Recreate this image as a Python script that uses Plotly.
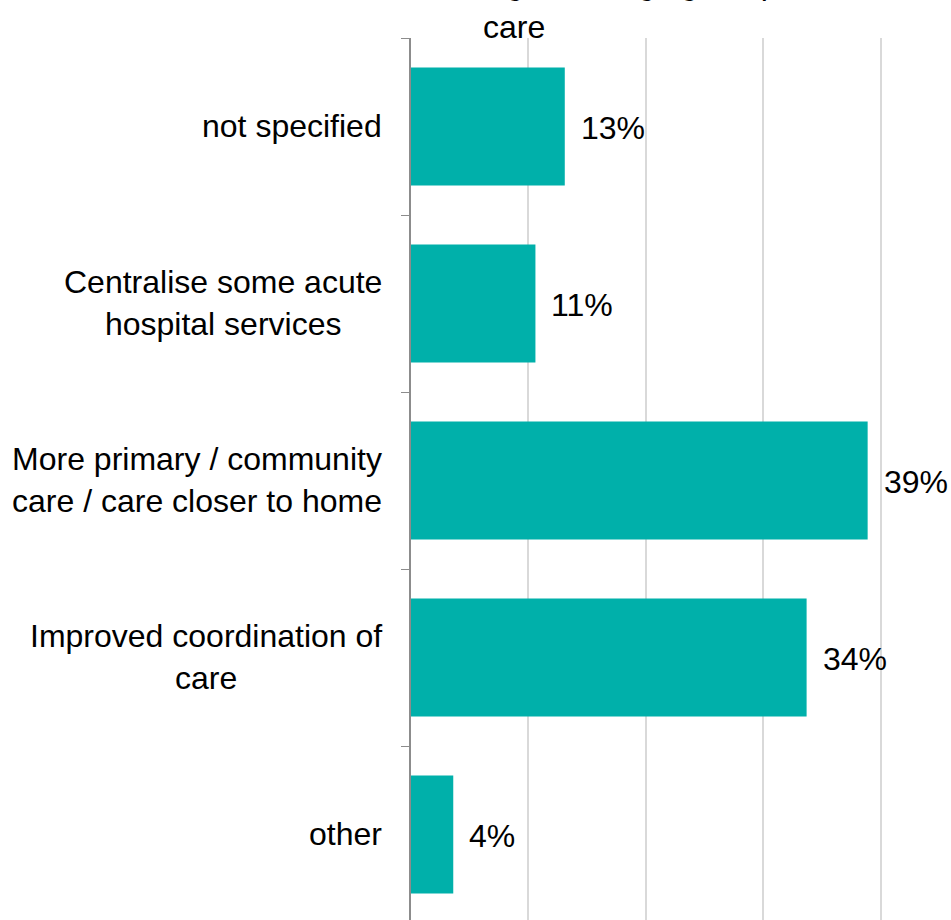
import plotly.graph_objects as go

# categories top to bottom, values in percent
categories = [
    "not specified",
    "Centralise some acute<br>hospital services",
    "More primary / community<br>care / care closer to home",
    "Improved coordination of<br>care",
    "other",
]
values = [13.1, 10.6, 38.9, 33.7, 3.6]
value_labels = ["13%", "11%", "39%", "34%", "4%"]

# title: first line is cut off by the top edge of the picture
title_lines = ["Focus of comments relating to changing the pattern of", "care"]

BAR_COLOR = "#00B0AA"
FONT = "Liberation Sans, Arial, sans-serif"

fig = go.Figure(
    go.Bar(
        x=values,
        y=categories,
        orientation="h",
        width=0.667,
        marker=dict(color=BAR_COLOR, line=dict(width=0)),
        hoverinfo="skip",
    )
)

# category labels (centred multi-line, right edge next to the axis)
for cat in categories:
    fig.add_annotation(
        x=0, xref="paper", y=cat, yref="y",
        text=cat, showarrow=False,
        xanchor="right", yanchor="middle", xshift=-27, yshift=1,
        align="center",
        font=dict(family=FONT, size=32, color="#000000"),
    )

# value labels at the bar ends
for cat, v, lab in zip(categories, values, value_labels):
    fig.add_annotation(
        x=v, y=cat, text=lab, showarrow=False,
        xanchor="left", yanchor="middle", xshift=14, yshift=-1,
        font=dict(family=FONT, size=32, color="#000000"),
    )

# title lines
for line, shift in zip(title_lines, [35, -9]):
    fig.add_annotation(
        x=0.19, xref="paper", y=1, yref="paper",
        text=line, showarrow=False,
        xanchor="center", yanchor="bottom", yshift=shift,
        font=dict(family=FONT, size=32, color="#000000"),
    )

fig.update_layout(
    width=951,
    height=920,
    margin=dict(l=411, r=0, t=38, b=0),
    paper_bgcolor="white",
    plot_bgcolor="white",
    showlegend=False,
    bargap=0.333,
    xaxis=dict(
        range=[0, 46.0],
        dtick=10,
        showgrid=True,
        gridcolor="#D9D9D9",
        gridwidth=1.5,
        zeroline=False,
        showline=False,
        showticklabels=False,
        ticks="",
    ),
    yaxis=dict(
        categoryorder="array",
        categoryarray=categories,
        range=[4.483, -0.5],
        showline=True,
        linecolor="#8C8C8C",
        linewidth=1.5,
        ticks="outside",
        tickson="boundaries",
        ticklen=8,
        tickcolor="#8C8C8C",
        showticklabels=False,
        showgrid=False,
        zeroline=False,
    ),
)

# drop the default 8px page margin so the figure fills the window exactly
fig.write_html(
    "out.html",
    config={"displayModeBar": False},
    post_script="document.body.style.margin='0';document.body.style.overflow='hidden';",
)
